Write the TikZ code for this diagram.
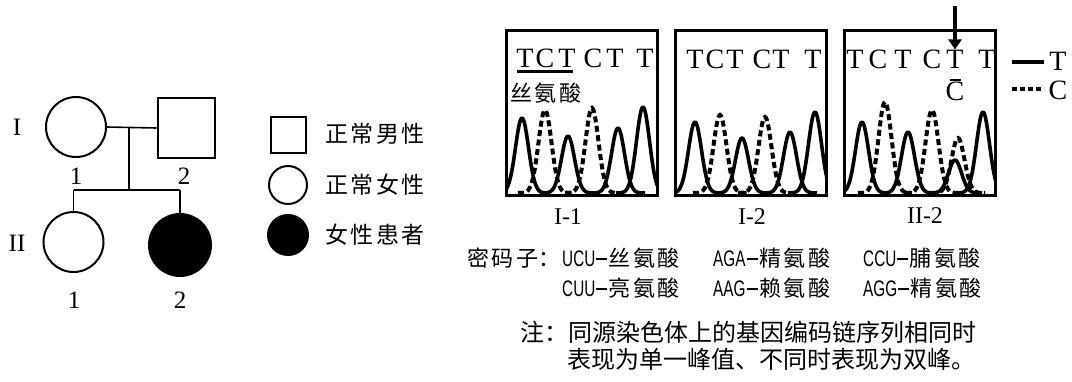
\documentclass[tikz,border=0pt]{standalone}
\usepackage{fontspec}
\setmainfont{Liberation Serif}
\newfontfamily\cjk{Noto Sans CJK SC}
\newfontfamily\narrowsans[FakeStretch=0.68]{Liberation Sans}
\usetikzlibrary{arrows.meta}
\newcommand\fs[1]{\fontsize{#1}{#1}\selectfont}
\newcommand\peakcurve[3]{\draw[#3] plot[domain=#1-27:#1+27,samples=55,smooth] (\x,{193-(193-#2)*exp(0-((\x-#1)/9.2)^2)});}
\newcommand\csp{\kern2.5pt}
\tikzset{
  pline/.style={line width=1.6pt},
  pcirc/.style={circle,draw,line width=2pt,minimum size=60pt,inner sep=0pt},
  psq/.style={rectangle,draw,line width=2pt,minimum width=57pt,minimum height=60pt,inner sep=0pt},
  roman/.style={font=\fs{25},inner sep=0pt},
  legtext/.style={font=\cjk\fs{23},anchor=west,inner sep=0pt},
  chrombox/.style={draw,line width=3pt,minimum width=151pt,minimum height=165pt,inner sep=0pt},
  base/.style={font=\fs{28},anchor=base,inner sep=0pt},
  solidpk/.style={line width=3.6pt,line join=round},
  dashpk/.style={line width=4pt,dash pattern=on 6pt off 3.5pt},
  codon/.style={font=\cjk\fs{22},anchor=west,inner sep=0pt},
  note/.style={font=\cjk\fs{24},anchor=west,inner sep=0pt},
  boxlab/.style={font=\fs{24},inner sep=0pt}
}
\newcommand\lat[1]{{\narrowsans\fs{22.5}#1\kern1pt\rule[0.3em]{11pt}{1.8pt}\kern1.5pt}}
\begin{document}
\begin{tikzpicture}[x=1pt,y=-1pt]
\useasboundingbox (0,0) rectangle (1072,381);
% ---------------- pedigree ----------------
\node[roman] (gI) at (17,127) {I};
\node[roman] (gII) at (17,243) {II};
\node[pcirc] (i1) at (76,127) {};
\node[psq] (i2) at (186,128) {};
\node[pcirc] (ii1) at (73.5,242) {};
\node[pcirc,fill=black,minimum size=62pt] (ii2) at (180,245) {};
\node[roman] (n11) at (76,176) {1};
\node[roman] (n12) at (184,176) {2};
\node[roman] (n21) at (74,300) {1};
\node[roman] (n22) at (180,300) {2};
\coordinate (m) at (129,128);
\coordinate (j) at (129,190);
\coordinate (ja) at (73.5,190);
\coordinate (jb) at (180,190);
\draw[pline] (i1.east) -- (i2.west);
\draw[pline] (m) -- (j);
\draw[pline] (ja) -- (jb);
\draw[pline] (ja) -- (ii1.north);
\draw[pline] (jb) -- (ii2.north);
% legend
\node[rectangle,draw,line width=2pt,minimum width=35pt,minimum height=36pt,inner sep=0pt] (lsq) at (288,135) {};
\node[circle,draw,line width=2pt,minimum size=38pt,inner sep=0pt] (lci) at (288,185) {};
\node[circle,draw,fill=black,line width=2pt,minimum size=40pt,inner sep=0pt] (lfc) at (288,235) {};
\node[legtext] (t1) at (325,134) {正\csp 常\csp 男\csp 性};
\node[legtext] (t2) at (325,185) {正\csp 常\csp 女\csp 性};
\node[legtext] (t3) at (325,235) {女\csp 性\csp 患\csp 者};
% ---------------- chromatograms ----------------
\node[chrombox] (b1) at (582,113) {};
\node[chrombox] (b2) at (751,113) {};
\node[chrombox] (b3) at (920,113) {};
% I-1
\foreach \xx/\ll [count=\k] in {525/T,545/C,567/T,593/C,615/T,645/T}
  \node[base] (a\k) at (\xx,67) {\ll};
\draw[line width=3pt] (517,71) -- (573,71);
\node[font=\cjk\fs{22},inner sep=0pt] (ser) at (546,93) {丝\csp 氨\csp 酸};
\begin{scope}
\clip (508,32) rectangle (656,194.5);
\peakcurve{522}{118}{solidpk}
\peakcurve{545}{110}{dashpk}
\peakcurve{568}{136}{solidpk}
\peakcurve{592}{108}{dashpk}
\peakcurve{618}{128}{solidpk}
\peakcurve{643}{107}{solidpk}
\end{scope}
% I-2
\foreach \xx/\ll [count=\k] in {695/T,715/C,735/T,762/C,781/T,813/T}
  \node[base] (c\k) at (\xx,68) {\ll};
\begin{scope}
\clip (677,32) rectangle (825,194.5);
\peakcurve{695}{122}{solidpk}
\peakcurve{720}{115}{dashpk}
\peakcurve{742}{138}{solidpk}
\peakcurve{765}{117}{dashpk}
\peakcurve{790}{132}{solidpk}
\peakcurve{815}{112}{solidpk}
\end{scope}
% II-2
\foreach \xx/\ll [count=\k] in {855/T,878/C,903/T,932/C,955/T,987/T}
  \node[base] (d\k) at (\xx,68) {\ll};
\draw[line width=1.5pt] (950,80) -- (961,80);
\node[base] (dc) at (955,100) {C};
\coordinate (arrtop) at (955,6);
\draw[line width=4pt,-{Triangle[width=13pt,length=10pt]}] (arrtop) -- (d5.north);
\begin{scope}
\clip (846,32) rectangle (994,194.5);
\peakcurve{862}{122}{solidpk}
\peakcurve{885}{102}{dashpk}
\peakcurve{908}{132}{solidpk}
\peakcurve{932}{110}{dashpk}
\peakcurve{955}{160}{solidpk}
\peakcurve{958}{138}{dashpk}
\peakcurve{983}{112}{solidpk}
\end{scope}
% legend T / C
\coordinate (ls1) at (1012,62);
\coordinate (ls2) at (1044,62);
\coordinate (ld1) at (1012,89);
\coordinate (ld2) at (1044,89);
\draw[line width=4pt] (ls1) -- (ls2);
\draw[line width=4pt,dash pattern=on 5pt off 3pt] (ld1) -- (ld2);
\node[base] (lT) at (1058,70) {T};
\node[base] (lC) at (1058,99) {C};
% labels below boxes
\node[boxlab] (l1) at (568,217) {I-1};
\node[boxlab] (l2) at (752,217) {I-2};
\node[boxlab] (l3) at (925,216) {II-2};
% ---------------- codons ----------------
\node[codon] (k0) at (467,258) {密\csp 码\csp 子：};
\node[codon] (k1) at (562,258) {\lat{UCU}丝\csp 氨\csp 酸};
\node[codon] (k2) at (713,258) {\lat{AGA}精\csp 氨\csp 酸};
\node[codon] (k3) at (863,258) {\lat{CCU}脯\csp 氨\csp 酸};
\node[codon] (k4) at (562,288) {\lat{CUU}亮\csp 氨\csp 酸};
\node[codon] (k5) at (713,288) {\lat{AAG}赖\csp 氨\csp 酸};
\node[codon] (k6) at (863,288) {\lat{AGG}精\csp 氨\csp 酸};
\node[note] (nt1) at (520,332) {注：同源染色体上的基因编码链序列相同时};
\node[note] (nt2) at (567,359) {表现为单一峰值、不同时表现为双峰。};
\end{tikzpicture}
\end{document}
